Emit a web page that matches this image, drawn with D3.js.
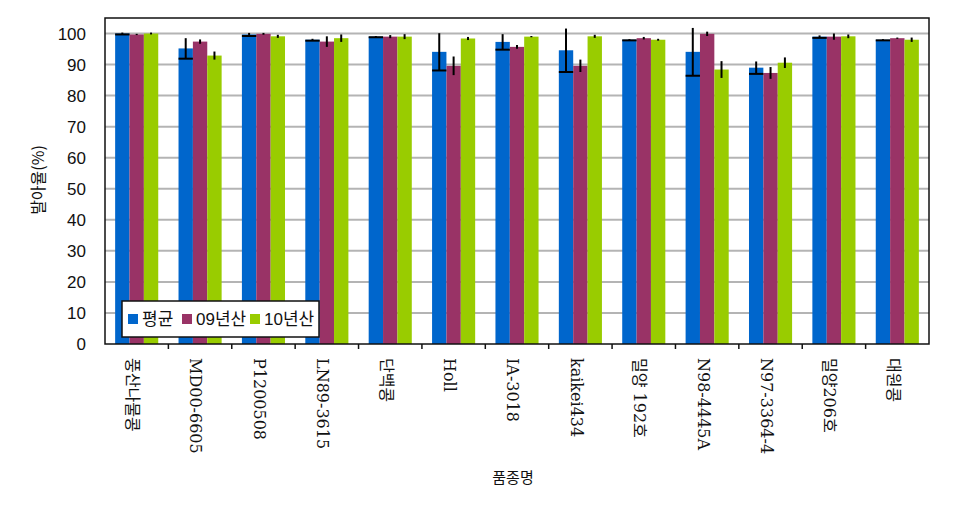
<!DOCTYPE html>
<html>
<head>
<meta charset="utf-8">
<script src="https://cdn.jsdelivr.net/npm/d3@7"></script>
<style>
  body { margin: 0; background: #fff; }
  svg { display: block; }
</style>
</head>
<body>
<svg id="chart"></svg>
<script>
// categories (품종명)
const categories = ['풍산나물콩', 'MD00-6605', 'P1200508', 'LN89-3615', '단백콩', 'Holl', 'IA-3018',
    'kaikei434', '밀양 192호', 'N98-4445A', 'N97-3364-4', '밀양206호', '대원콩'];

const seriesNames = ['평균', '09년산', '10년산'];

// germination rate (%)
const meanValues = [100.0, 95.2, 99.7, 98.0, 99.0, 94.1, 97.3, 94.6, 98.0, 94.1, 89.0, 99.0, 98.0];
const y09Values  = [ 99.7, 97.4, 99.9, 97.4, 99.0, 89.6, 95.7, 89.6, 98.5, 99.9, 87.3, 99.0, 98.5];
const y10Values  = [100.0, 92.9, 99.1, 98.5, 99.0, 98.4, 99.0, 99.1, 98.0, 88.4, 90.6, 99.1, 98.0];

// error (+/-)
const meanErrors = [0.3, 3.3, 0.5, 0.3, 0.2, 6.0, 2.5, 7.0, 0.2, 7.7, 2.0, 0.4, 0.2];
const y09Errors  = [0.2, 0.7, 0.3, 1.7, 0.5, 3.0, 0.6, 2.0, 0.4, 0.7, 1.9, 1.0, 0.2];
const y10Errors  = [0.3, 1.3, 0.5, 1.2, 0.8, 0.5, 0.2, 0.5, 0.3, 2.7, 1.7, 0.6, 0.7];

const yTicks = [0, 10, 20, 30, 40, 50, 60, 70, 80, 90, 100];

const colors = ['#0066cc', '#993366', '#99cc00'];

const width = 973, height = 518;
const margin = {top: 18, right: 44, bottom: 174, left: 105};
const innerWidth = width - margin.left - margin.right;
const innerHeight = height - margin.top - margin.bottom;

const svg = d3.select('#chart')
    .attr('width', width)
    .attr('height', height);

const chart = svg.append('g')
    .attr('transform', `translate(${margin.left}, ${margin.top})`);

const xscale = d3.scaleBand()
    .domain(categories)
    .range([0, innerWidth])
    .paddingInner(0.32)
    .paddingOuter(0.16);

const subscale = d3.scaleBand()
    .domain(seriesNames)
    .range([0, xscale.bandwidth()]);

const yscale = d3.scaleLinear()
    .domain([0, 105])
    .range([innerHeight, 0]);

// gridlines
chart.append('g')
    .selectAll('line')
    .data(yTicks.filter(d => d > 0))
    .join('line')
    .attr('x1', 0)
    .attr('x2', innerWidth)
    .attr('y1', d => yscale(d))
    .attr('y2', d => yscale(d))
    .attr('stroke', '#b4b4b4')
    .attr('stroke-width', 2);

// bars
const rows = categories.map((c, i) => ({
    cat: c,
    vals: [
        {s: seriesNames[0], v: meanValues[i], e: meanErrors[i], k: 0},
        {s: seriesNames[1], v: y09Values[i], e: y09Errors[i], k: 1},
        {s: seriesNames[2], v: y10Values[i], e: y10Errors[i], k: 2}
    ]
}));

const groups = chart.append('g')
    .selectAll('g')
    .data(rows)
    .join('g')
    .attr('transform', d => `translate(${xscale(d.cat)}, 0)`);

groups.selectAll('rect')
    .data(d => d.vals)
    .join('rect')
    .attr('x', d => subscale(d.s))
    .attr('y', d => yscale(d.v))
    .attr('width', subscale.bandwidth())
    .attr('height', d => innerHeight - yscale(d.v))
    .attr('fill', d => colors[d.k]);

// error bars
groups.selectAll('line.err')
    .data(d => d.vals)
    .join('line')
    .attr('class', 'err')
    .attr('x1', d => subscale(d.s) + subscale.bandwidth() / 2)
    .attr('x2', d => subscale(d.s) + subscale.bandwidth() / 2)
    .attr('y1', d => yscale(Math.min(d.v + d.e, 105)))
    .attr('y2', d => yscale(d.v - d.e))
    .attr('stroke', 'black')
    .attr('stroke-width', 2);

// caps only on the mean series (lower end)
groups.selectAll('line.cap')
    .data(d => d.vals.filter(v => v.k === 0))
    .join('line')
    .attr('class', 'cap')
    .attr('x1', d => subscale(d.s))
    .attr('x2', d => subscale(d.s) + subscale.bandwidth())
    .attr('y1', d => yscale(d.v - d.e))
    .attr('y2', d => yscale(d.v - d.e))
    .attr('stroke', 'black')
    .attr('stroke-width', 2);

// plot frame
chart.append('rect')
    .attr('x', 0)
    .attr('y', 0)
    .attr('width', innerWidth)
    .attr('height', innerHeight)
    .attr('fill', 'none')
    .attr('stroke', '#111')
    .attr('stroke-width', 1.5);

// y axis labels
chart.append('g')
    .selectAll('text')
    .data(yTicks)
    .join('text')
    .attr('x', -19)
    .attr('y', d => yscale(d))
    .attr('dy', '0.36em')
    .attr('text-anchor', 'end')
    .attr('font-family', '"Liberation Sans", Arial, sans-serif')
    .attr('font-size', 17)
    .attr('fill', '#111')
    .text(d => d);

// x ticks at category boundaries
const step = xscale.step();
chart.append('g')
    .selectAll('line')
    .data(d3.range(1, categories.length))
    .join('line')
    .attr('x1', d => d * step)
    .attr('x2', d => d * step)
    .attr('y1', innerHeight)
    .attr('y2', innerHeight + 5)
    .attr('stroke', '#111')
    .attr('stroke-width', 1.5);

// x labels (rotated)
chart.append('g')
    .selectAll('text')
    .data(categories)
    .join('text')
    .attr('transform', d => `translate(${xscale(d) + xscale.bandwidth() / 2 - 4}, ${innerHeight + 14}) rotate(90)`)
    .attr('dy', '0.35em')
    .attr('text-anchor', 'start')
    .attr('font-family', '"DejaVu Serif", "Noto Sans CJK KR", serif')
    .attr('font-size', 16)
    .attr('fill', '#111')
    .text(d => d);

// axis titles
svg.append('text')
    .attr('x', margin.left + innerWidth / 2 - 4)
    .attr('y', 483)
    .attr('text-anchor', 'middle')
    .attr('font-family', '"Noto Sans CJK KR", sans-serif')
    .attr('font-size', 15)
    .attr('fill', '#111')
    .text('품종명');

svg.append('text')
    .attr('transform', `translate(38, 180) rotate(-90)`)
    .attr('dy', '0.35em')
    .attr('text-anchor', 'middle')
    .attr('font-family', '"Noto Sans CJK KR", sans-serif')
    .attr('font-size', 16)
    .attr('fill', '#111')
    .text('발아율(%)');

// legend
const legend = svg.append('g')
    .attr('transform', 'translate(122, 301)');

legend.append('rect')
    .attr('width', 197)
    .attr('height', 36)
    .attr('fill', 'white')
    .attr('stroke', '#111')
    .attr('stroke-width', 1.5);

const legendX = [6, 60, 128];
const items = legend.selectAll('g')
    .data(seriesNames)
    .join('g')
    .attr('transform', (d, i) => `translate(${legendX[i]}, 0)`);

items.append('rect')
    .attr('y', 13)
    .attr('width', 10)
    .attr('height', 10)
    .attr('fill', (d, i) => colors[i]);

items.append('text')
    .attr('x', 14)
    .attr('y', 18)
    .attr('dy', '0.36em')
    .attr('font-family', '"Liberation Sans", "Noto Sans CJK KR", sans-serif')
    .attr('font-size', 17)
    .attr('fill', '#111')
    .text(d => d);
</script>
</body>
</html>
